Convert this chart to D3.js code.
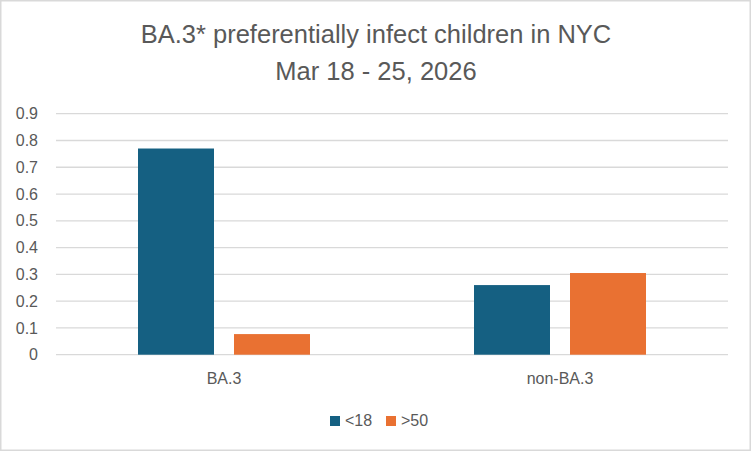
<!DOCTYPE html>
<html lang="en">
<head>
  <meta charset="UTF-8">
  <title>BA.3* preferentially infect children in NYC</title>
  <script src="https://cdn.jsdelivr.net/npm/d3@7"></script>
  <style>
    body { margin: 0; background: #fff; }
    text { font-family: "Liberation Sans", "Noto Sans", sans-serif; fill: #595959; }
  </style>
</head>
<body>
  <div id="chart"></div>
  <script>
    // data
    var categories = ['BA.3', 'non-BA.3'];
    var seriesNames = ['<18', '>50'];
    var under18 = [0.77, 0.26];
    var over50 = [0.077, 0.305];
    var yTicks = [0, 0.1, 0.2, 0.3, 0.4, 0.5, 0.6, 0.7, 0.8, 0.9];
    var colors = ['#156082', '#E97132'];

    var width = 752, height = 452;
    var margin = {top: 113.7, right: 24, bottom: 97.3, left: 56};
    var innerW = width - margin.left - margin.right;
    var innerH = height - margin.top - margin.bottom;

    var rows = categories.map(function(c, i) {
      return {cat: c, values: [under18[i], over50[i]]};
    });

    var svg = d3.select('#chart').append('svg')
      .attr('width', width)
      .attr('height', height);

    // chart area border
    svg.append('rect')
      .attr('x', 0.75).attr('y', 0.75)
      .attr('width', width - 2.5).attr('height', height - 2.5)
      .attr('fill', '#fff')
      .attr('stroke', '#D9D9D9')
      .attr('stroke-width', 1.5);

    // title
    var title = svg.append('text')
      .attr('text-anchor', 'middle')
      .attr('font-size', 25.5);
    title.append('tspan').attr('x', width / 2).attr('y', 43).text('BA.3* preferentially infect children in NYC');
    title.append('tspan').attr('x', width / 2).attr('y', 80).text('Mar 18 - 25, 2026');

    var g = svg.append('g').attr('transform', 'translate(' + margin.left + ',' + margin.top + ')');

    var x0 = d3.scaleBand().domain(categories).range([0, innerW]).paddingInner(0).paddingOuter(0);
    var x1 = d3.scaleBand().domain(seriesNames).range([0, 172]).paddingInner(20 / 96).paddingOuter(0);
    var y = d3.scaleLinear().domain([0, 0.9]).range([innerH, 0]);

    // gridlines
    g.append('g')
      .selectAll('line')
      .data(yTicks)
      .enter().append('line')
      .attr('x1', 0)
      .attr('x2', innerW)
      .attr('y1', function(d) { return y(d); })
      .attr('y2', function(d) { return y(d); })
      .attr('stroke', '#D9D9D9')
      .attr('stroke-width', 1.3);

    // y axis labels
    var yAxis = g.append('g')
      .attr('transform', 'translate(-18,0)')
      .call(d3.axisLeft(y).tickValues(yTicks).tickSize(0).tickPadding(0).tickFormat(function(d) { return d === 0 ? '0' : d3.format('.1f')(d); }));
    yAxis.select('.domain').remove();
    yAxis.selectAll('text').attr('font-size', 16).attr('fill', '#595959').attr('font-family', null);

    // bars
    var groups = g.append('g')
      .selectAll('g')
      .data(rows)
      .enter().append('g')
      .attr('transform', function(d) { return 'translate(' + (x0(d.cat) + (x0.bandwidth() - 172) / 2) + ',0)'; });

    groups.selectAll('rect')
      .data(function(d) { return d.values.map(function(v, i) { return {name: seriesNames[i], value: v, i: i}; }); })
      .enter().append('rect')
      .attr('x', function(d) { return x1(d.name); })
      .attr('width', x1.bandwidth())
      .attr('y', function(d) { return y(d.value); })
      .attr('height', function(d) { return innerH - y(d.value); })
      .attr('fill', function(d) { return colors[d.i]; });

    // x axis labels
    var xAxis = g.append('g')
      .attr('transform', 'translate(0,' + innerH + ')')
      .call(d3.axisBottom(x0).tickSize(0).tickPadding(18));
    xAxis.select('.domain').remove();
    xAxis.selectAll('text').attr('font-size', 16).attr('fill', '#595959').attr('font-family', null);

    // legend
    var legend = svg.append('g').attr('transform', 'translate(330,416)');
    var legX = [0, 56];
    var items = legend.selectAll('g')
      .data(seriesNames)
      .enter().append('g')
      .attr('transform', function(d, i) { return 'translate(' + legX[i] + ',0)'; });
    items.append('rect')
      .attr('width', 10).attr('height', 10)
      .attr('fill', function(d, i) { return colors[i]; });
    items.append('text')
      .attr('x', 15).attr('y', 10)
      .attr('font-size', 16)
      .text(function(d) { return d; });
  </script>
</body>
</html>
